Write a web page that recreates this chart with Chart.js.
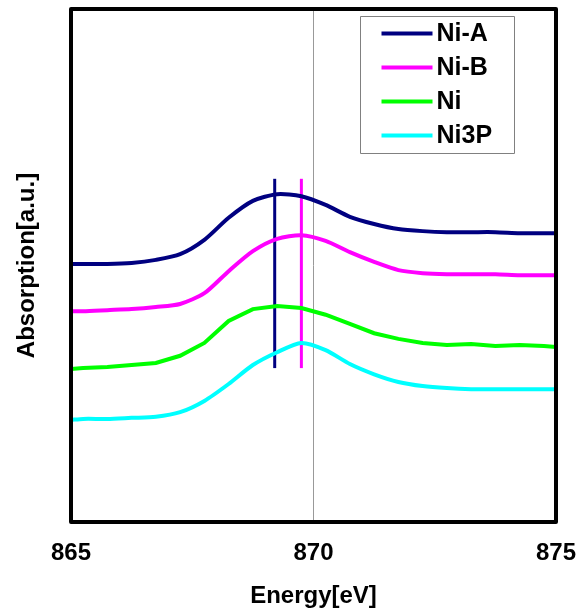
<!DOCTYPE html>
<html>
<head>
<meta charset="utf-8">
<title>Ni L-edge absorption</title>
<script src="https://cdn.jsdelivr.net/npm/chart.js@4.4.0/dist/chart.umd.min.js"></script>
<style>
  html, body { margin: 0; padding: 0; background: #fff; }
  canvas { display: block; }
</style>
</head>
<body>
<canvas id="chart" width="587" height="611"></canvas>
<script>
"use strict";
// energy grid [eV]
const energies = [865, 865.25, 865.75, 866.25, 866.75, 867.25, 867.75, 868.25, 868.75, 869.25, 869.75,
    870.25, 870.75, 871.25, 871.75, 872.25, 872.75, 873.25, 873.75, 874.25, 874.75, 875];
const seriesNames = ["Ni-A", "Ni-B", "Ni", "Ni3P"];
const seriesColors = ["#000080", "#ff00ff", "#00ff00", "#00ffff"];
// absorption, arbitrary units (offset spectra)
const niA = [50.3, 50.3, 50.3, 50.5, 51.1, 52.2, 55.0, 59.3, 62.6, 63.9, 63.5, 61.8, 59.5, 58.1, 57.1, 56.7, 56.5, 56.5, 56.5, 56.3, 56.3, 56.3];
const niB = [41.1, 41.1, 41.3, 41.5, 41.9, 42.5, 44.6, 48.9, 52.8, 55.2, 55.9, 54.8, 52.6, 50.7, 49.1, 48.5, 48.3, 48.3, 48.3, 48.1, 48.1, 48.1];
const ni = [29.8, 30.0, 30.2, 30.6, 31.0, 32.4, 34.9, 39.2, 41.5, 42.1, 41.7, 40.4, 38.6, 36.8, 35.7, 34.9, 34.5, 34.7, 34.3, 34.5, 34.3, 34.1];
const ni3p = [19.9, 20.1, 20.1, 20.3, 20.5, 21.4, 23.6, 26.9, 30.6, 33.1, 34.9, 33.5, 30.8, 28.8, 27.3, 26.5, 26.1, 25.9, 25.9, 25.9, 25.9, 25.9];
// peak markers
const markerEnergies = [869.2, 869.75];
const markerColors = ["#000080", "#ff00ff"];
const markerRange = [30.0, 66.9];
const xTicks = [865, 870, 875];

const canvas = document.getElementById('chart');
const ctx = canvas.getContext('2d');
const FONT = "'Liberation Sans', Arial, sans-serif";

function toPoints(values) {
    return values.map((v, i) => ({ x: energies[i], y: v }));
}

const allSeries = [niA, niB, ni, ni3p];
let datasets = allSeries.map((vals, i) => ({
    label: seriesNames[i],
    data: toPoints(vals),
    borderColor: seriesColors[i],
    borderWidth: 4,
    pointRadius: 0,
    tension: i == 2 ? 0 : 0.25,
    fill: false
}));
markerEnergies.forEach((e, i) => {
    datasets.push({
        label: "marker" + i,
        data: [{ x: e, y: markerRange[0] }, { x: e, y: markerRange[1] }],
        borderColor: markerColors[i],
        borderWidth: 3,
        pointRadius: 0,
        fill: false
    });
});

// thick frame + boxed legend inside plot
const framePlugin = {
    id: 'frame',
    afterDraw(chart) {
        const a = chart.chartArea;
        const c = chart.ctx;
        c.save();
        c.strokeStyle = '#000';
        c.lineWidth = 4;
        c.lineJoin = 'round';
        c.strokeRect(a.left, a.top, a.right - a.left, a.bottom - a.top);

        // legend
        const bx = a.right - 195.5, by = a.top + 7.5, bw = 154, bh = 137;
        c.fillStyle = '#fff';
        c.fillRect(bx, by, bw, bh);
        c.strokeStyle = '#808080';
        c.lineWidth = 1;
        c.strokeRect(bx, by, bw, bh);
        c.font = "bold 25px " + FONT;
        c.textBaseline = 'middle';
        seriesNames.forEach((name, i) => {
            const y = by + 17 + i * 34;
            c.strokeStyle = seriesColors[i];
            c.lineWidth = 4;
            c.beginPath();
            c.moveTo(bx + 21, y);
            c.lineTo(bx + 72, y);
            c.stroke();
            c.fillStyle = '#000';
            c.fillText(name, bx + 76, y + 1);
        });
        c.restore();
    }
};

let myChart = new Chart(ctx, {
    type: 'line',
    data: { datasets: datasets },
    options: {
        responsive: false,
        animation: false,
        layout: { padding: { top: 9, right: 31, left: 0, bottom: 0 } },
        plugins: {
            legend: { display: false },
            tooltip: { enabled: false }
        },
        scales: {
            x: {
                type: 'linear',
                min: 865,
                max: 875,
                afterBuildTicks: axis => { axis.ticks = xTicks.map(v => ({ value: v })); },
                afterFit: axis => {
                    axis.height = 89;
                    axis.paddingLeft = 0;
                    axis.paddingRight = 0;
                },
                ticks: {
                    padding: 17,
                    color: '#000',
                    font: { family: FONT, size: 24, weight: 'bold' }
                },
                grid: { color: '#999', lineWidth: 1, drawTicks: false },
                border: { display: false },
                title: {
                    display: true,
                    text: 'Energy[eV]',
                    color: '#000',
                    padding: { top: 0, bottom: 0 },
                    font: { family: FONT, size: 24, weight: 'bold' }
                }
            },
            y: {
                type: 'linear',
                min: 0,
                max: 100,
                afterFit: axis => { axis.width = 71; },
                ticks: { display: false },
                grid: { display: false },
                border: { display: false },
                title: {
                    display: true,
                    text: 'Absorption[a.u.]',
                    color: '#000',
                    padding: { top: 13, bottom: 0 },
                    font: { family: FONT, size: 24, weight: 'bold' }
                }
            }
        }
    },
    plugins: [framePlugin]
});
</script>
</body>
</html>
